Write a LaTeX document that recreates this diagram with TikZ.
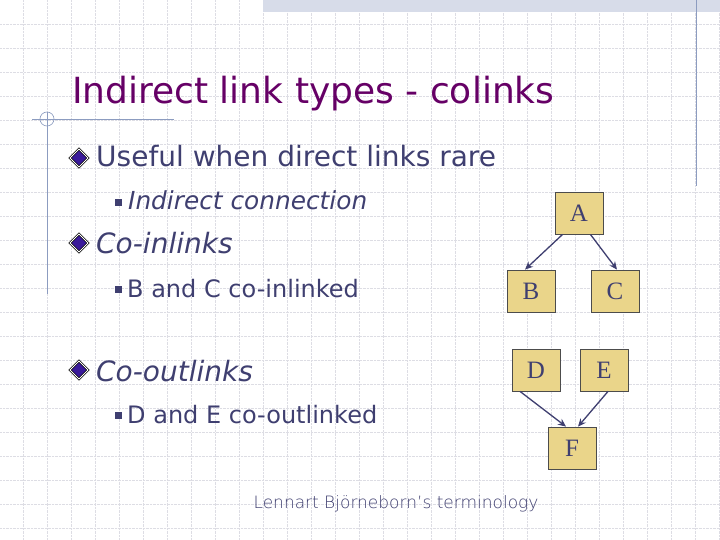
\documentclass[tikz,border=0pt]{standalone}
\usepackage{fontspec}
\setmainfont{DejaVu Sans}
\newfontfamily\serifb{Liberation Serif}
\newfontfamily\thinf{DejaVu Sans ExtraLight}
\usetikzlibrary{arrows.meta}
\definecolor{titlec}{HTML}{660066}
\definecolor{bodyc}{HTML}{3F3F70}
\definecolor{boxf}{HTML}{EAD58A}
\definecolor{gridc}{HTML}{DDDDE4}
\definecolor{linec}{HTML}{8C9CC0}
\definecolor{bulc}{HTML}{3A1A9A}
\begin{document}
\begin{tikzpicture}[x=1pt,y=-1pt,
  gbox/.style={draw=black!70,fill=boxf,minimum width=48pt,minimum height=42pt,inner sep=0pt,font=\serifb\fontsize{25}{25}\selectfont,text=bodyc,line width=0.8pt},
  arr/.style={-{Stealth[length=8pt,width=7pt]},draw=bodyc,line width=1.3pt},
  txt/.style={anchor=base west,inner sep=0pt,text=bodyc},
  dia/.style={draw=black,fill=bulc,line width=0.6pt,double=white,double distance=1pt},
  sq/.style={fill=bodyc}]
\useasboundingbox (0,0) rectangle (720,540);
\fill[white] (0,0) rectangle (720,540);
\foreach \i in {1,...,30} \draw[gridc,densely dotted,line width=0.4pt] (\i*24-0.5,0) -- (\i*24-0.5,540);
\foreach \j in {1,...,22} \draw[gridc,densely dotted,line width=0.4pt] (0,\j*24+0.5) -- (720,\j*24+0.5);
\fill[linec!35] (263,0) rectangle (720,12);
\draw[linec,line width=0.8pt] (696,0) -- (696,186);
\draw[linec,line width=0.8pt] (32,119) -- (174,119);
\draw[linec,line width=0.8pt] (47,112) -- (47,294);
\draw[linec,line width=0.6pt] (47,119) circle (7);
\node[anchor=base west,inner sep=0pt,text=titlec,font=\fontsize{36}{36}\selectfont] (title) at (72,104) {Indirect link types - colinks};
\foreach \y in {158,243,370} \draw[dia] (79,\y-9) -- (88,\y) -- (79,\y+9) -- (70,\y) -- cycle;
\foreach \y in {203,290,416} \fill[sq] (115,\y-4) rectangle (122,\y+3);
\node[txt,font=\fontsize{28}{28}\selectfont] (t1) at (96,167) {Useful when direct links rare};
\node[txt,font=\fontsize{24.8}{24.8}\selectfont\itshape] (t2) at (128,210) {Indirect connection};
\node[txt,font=\fontsize{28}{28}\selectfont\itshape] (t3) at (96,253) {Co-inlinks};
\node[txt,font=\fontsize{24}{24}\selectfont] (t4) at (127,297) {B and C co-inlinked};
\node[txt,font=\fontsize{28}{28}\selectfont\itshape] (t5) at (96,381) {Co-outlinks};
\node[txt,font=\fontsize{24}{24}\selectfont] (t6) at (127,423) {D and E co-outlinked};
\node[gbox] (A) at (579,213) {A};
\node[gbox] (B) at (531,291) {B};
\node[gbox] (C) at (615,291) {C};
\node[gbox] (D) at (536,370) {D};
\node[gbox] (E) at (604,370) {E};
\node[gbox] (F) at (572,448) {F};
\draw[arr] ([xshift=8pt]A.south west) -- ([xshift=-6pt]B.north);
\draw[arr] ([xshift=-13pt]A.south east) -- ([xshift=2pt]C.north);
\draw[arr] ([xshift=-16pt]D.south) -- ([xshift=-6pt]F.north);
\draw[arr] ([xshift=4pt]E.south) -- ([xshift=6pt]F.north);
\node[anchor=base,inner sep=0pt,text=bodyc,font=\thinf\fontsize{17}{17}\selectfont] (credit) at (396,508) {Lennart Björneborn’s terminology};
\end{tikzpicture}
\end{document}
